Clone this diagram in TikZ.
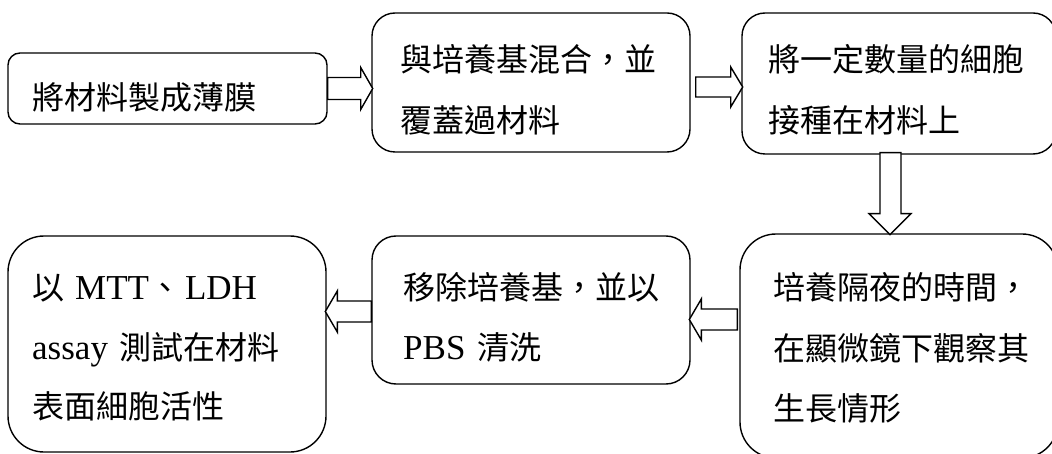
\documentclass[tikz,border=0pt]{standalone}
\usepackage{fontspec}
\setmainfont{Liberation Serif}
\newfontfamily\cjk{Noto Sans CJK TC}
\usetikzlibrary{calc}
\tikzset{
  stepbox/.style={draw, line width=1.4pt, rectangle, inner sep=0pt, fill=white},
  blockarrow/.style={draw, line width=1.4pt, fill=white, line join=miter},
  txt/.style={anchor=base west, inner sep=0pt, font=\fontsize{32}{32}\selectfont\cjk}
}
\newcommand{\lt}[1]{{\rmfamily\fontsize{35}{35}\selectfont #1}}
\begin{document}
\begin{tikzpicture}[x=1pt,y=-1pt]
\useasboundingbox (0,0) rectangle (1052,454);
% boxes
\node[stepbox, minimum width=319pt, minimum height=71pt, rounded corners=12pt] (b1) at (167.5,88.5) {};
\node[stepbox, minimum width=318pt, minimum height=139pt, rounded corners=23pt] (b2) at (531,82.5) {};
\node[stepbox, minimum width=314pt, minimum height=141pt, rounded corners=23pt] (b3) at (899,83.5) {};
\node[stepbox, minimum width=318pt, minimum height=224pt, rounded corners=36pt] (b4) at (899,346) {};
\node[stepbox, minimum width=318pt, minimum height=148pt, rounded corners=24pt] (b5) at (531,310) {};
\node[stepbox, minimum width=318pt, minimum height=216pt, rounded corners=36pt] (b6) at (167,344) {};
% texts
\node[txt] (t1) at (32,110) {將材料製成薄膜};
\node[txt] (t2a) at (400,72) {與培養基混合，並};
\node[txt] (t2b) at (400,133) {覆蓋過材料};
\node[txt] (t3a) at (768,72) {將一定數量的細胞};
\node[txt] (t3b) at (768,133) {接種在材料上};
\node[txt] (t4a) at (773,300) {培養隔夜的時間，};
\node[txt] (t4b) at (773,360) {在顯微鏡下觀察其};
\node[txt] (t4c) at (773,420) {生長情形};
\node[txt] (t5a) at (403,300) {移除培養基，並以};
\node[txt] (t5b) at (403,359) {\lt{PBS}\hspace{12pt}清洗};
\node[txt] (t6a) at (32,300) {以\hspace{11pt}\lt{MTT}、\hspace{4pt}\lt{LDH}};
\node[txt] (t6b) at (32,359) {\lt{assay}\hspace{11pt}測試在材料};
\node[txt] (t6c) at (32,418) {表面細胞活性};
% arrows
\draw[blockarrow] ($(b1.east)+(0,-11)$) -- ++(33,0) -- ++(0,-10) -- ++(12,21) -- ++(-12,21) -- ++(0,-10) -- ++(-33,0) -- cycle;
\draw[blockarrow] ($(b2.east)+(5,-5.5)$) -- ++(35,0) -- ++(0,-10) -- ++(12,20) -- ++(-12,20) -- ++(0,-10) -- ++(-35,0) -- cycle;
\draw[blockarrow] ($(b3.south)+(-19,-2)$) -- ++(0,61) -- ++(-11,0) -- ++(21,21) -- ++(21,-21) -- ++(-10,0) -- ++(0,-61) -- cycle;
\draw[blockarrow] ($(b4.west)+(-2,-37)$) -- ++(-36,0) -- ++(0,-10) -- ++(-12,20.5) -- ++(12,20.5) -- ++(0,-10) -- ++(36,0) -- cycle;
\draw[blockarrow] ($(b5.west)+(0,-9)$) -- ++(-34,0) -- ++(0,-10) -- ++(-12,20.5) -- ++(12,20.5) -- ++(0,-10) -- ++(34,0) -- cycle;
\end{tikzpicture}
\end{document}
